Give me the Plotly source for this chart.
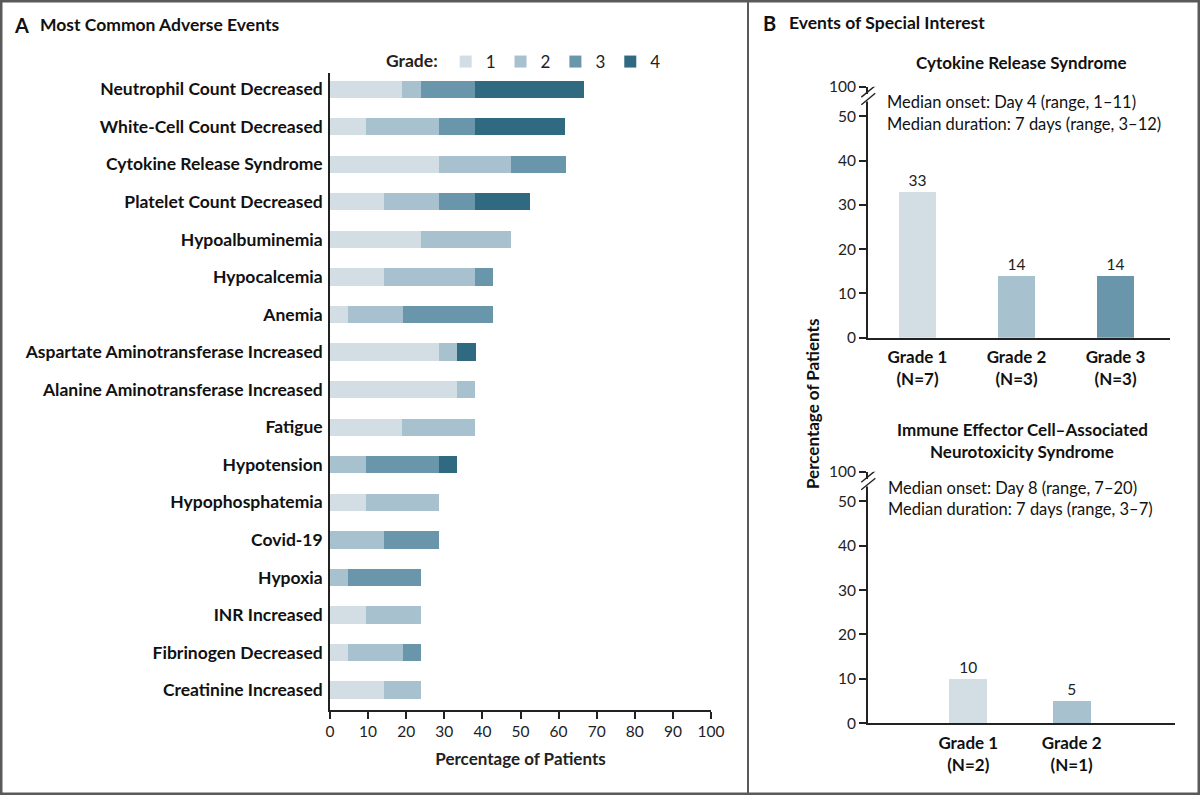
import plotly.graph_objects as go

W, H = 1200, 795
FONT = "Lato"

# ---------------- data ----------------
categories = [
    "Neutrophil Count Decreased", "White-Cell Count Decreased", "Cytokine Release Syndrome",
    "Platelet Count Decreased", "Hypoalbuminemia", "Hypocalcemia", "Anemia",
    "Aspartate Aminotransferase Increased", "Alanine Aminotransferase Increased", "Fatigue",
    "Hypotension", "Hypophosphatemia", "Covid-19", "Hypoxia", "INR Increased",
    "Fibrinogen Decreased", "Creatinine Increased",
]
grade1 = [19.0, 9.5, 28.6, 14.3, 23.8, 14.3, 4.8, 28.6, 33.3, 19.0, 0.0, 9.5, 0.0, 0.0, 9.5, 4.8, 14.3]
grade2 = [4.8, 19.0, 19.0, 14.3, 23.8, 23.8, 14.3, 4.8, 4.8, 19.0, 9.5, 19.0, 14.3, 4.8, 14.3, 14.3, 9.5]
grade3 = [14.3, 9.5, 14.3, 9.5, 0.0, 4.8, 23.8, 0.0, 0.0, 0.0, 19.0, 0.0, 14.3, 19.0, 0.0, 4.8, 0.0]
grade4 = [28.6, 23.8, 0.0, 14.3, 0.0, 0.0, 0.0, 4.8, 0.0, 0.0, 4.8, 0.0, 0.0, 0.0, 0.0, 0.0, 0.0]
grade_names = ["1", "2", "3", "4"]
grade_colors = ["#d3dde4", "#a8c1cf", "#6a96ab", "#2f6a80"]

crs_labels = ["Grade 1<br>(N=7)", "Grade 2<br>(N=3)", "Grade 3<br>(N=3)"]
crs_values = [33, 14, 14]
icans_labels = ["Grade 1<br>(N=2)", "Grade 2<br>(N=1)"]
icans_values = [10, 5]

b_yticks = [0, 10, 20, 30, 40, 50]
b_ytext = ["0", "10", "20", "30", "40", "50"]

# ------------- helpers -------------
def px(x):
    return x / W

def py(y):
    return 1 - y / H

fig = go.Figure()

# Panel A stacked bars
for name, vals, col in zip(grade_names, [grade1, grade2, grade3, grade4], grade_colors):
    fig.add_trace(go.Bar(
        y=categories, x=vals, name=name, orientation="h",
        marker=dict(color=col, line=dict(width=0)),
        xaxis="x", yaxis="y", width=0.46, showlegend=True,
        hoverinfo="x+y",
    ))

# Panel B top: CRS
fig.add_trace(go.Bar(
    x=crs_labels, y=crs_values, marker=dict(color=grade_colors[:3], line=dict(width=0)),
    text=[str(v) for v in crs_values], textposition="outside", cliponaxis=False,
    textfont=dict(family=FONT, size=15.5, color="#222"),
    xaxis="x2", yaxis="y2", width=0.37, showlegend=False,
))
# Panel B bottom: ICANS
fig.add_trace(go.Bar(
    x=icans_labels, y=icans_values, marker=dict(color=grade_colors[:2], line=dict(width=0)),
    text=[str(v) for v in icans_values], textposition="outside", cliponaxis=False,
    textfont=dict(family=FONT, size=15.5, color="#222"),
    xaxis="x3", yaxis="y3", width=0.37, showlegend=False,
))

axis_line = dict(showline=True, linecolor="#222", linewidth=1.6, showgrid=False,
                 zeroline=False, automargin=False)
YTOP = 56.66  # value of the "100" label position above the break

fig.update_layout(
    template="none",
    width=W, height=H,
    margin=dict(l=0, r=0, t=0, b=0, pad=0, autoexpand=False),
    paper_bgcolor="white", plot_bgcolor="white",
    barmode="stack",
    font=dict(family=FONT, size=15, color="#222"),
    bargap=0.5,
    legend=dict(
        orientation="h", x=px(384), y=py(44), xanchor="left", yanchor="top",
        title=dict(text="<b>Grade:</b>", font=dict(family=FONT, size=17.5), side="left"),
        font=dict(family=FONT, size=17), bgcolor="rgba(0,0,0,0)", traceorder="normal",
        itemclick=False, itemdoubleclick=False,
    ),
    xaxis=dict(
        domain=[px(330), px(711)], anchor="y", range=[0, 100], dtick=10,
        ticks="outside", ticklen=7, tickwidth=1.5, tickcolor="#222",
        tickfont=dict(family=FONT, size=15.5), **axis_line,
        title=dict(text="<b>Percentage of Patients</b>", font=dict(family=FONT, size=17), standoff=14),
    ),
    yaxis=dict(
        domain=[py(710), py(73)], anchor="x", type="category",
        range=[16.53, -0.43], ticks="", ticklabelstandoff=2,
        tickfont=dict(family=FONT, size=17.5, color="#111", weight="bold"), **axis_line,
    ),
    xaxis2=dict(
        domain=[px(868), px(1170)], anchor="y2", type="category", range=[-0.5, 2.55],
        ticks="", ticklabelstandoff=3,
        tickfont=dict(family=FONT, size=17, color="#111", weight="bold"), **axis_line,
    ),
    yaxis2=dict(
        domain=[py(337.7), py(86.7)], anchor="x2", range=[0, YTOP],
        tickvals=b_yticks + [YTOP], ticktext=b_ytext + ["100"],
        ticks="outside", ticklen=7, tickwidth=1.5, tickcolor="#222",
        tickfont=dict(family=FONT, size=15.5), **axis_line,
    ),
    xaxis3=dict(
        domain=[px(868), px(1175)], anchor="y3", type="category", range=[-0.97, 2.0],
        ticks="", ticklabelstandoff=3,
        tickfont=dict(family=FONT, size=17, color="#111", weight="bold"), **axis_line,
    ),
    yaxis3=dict(
        domain=[py(723.3), py(471.7)], anchor="x3", range=[0, YTOP],
        tickvals=b_yticks + [YTOP], ticktext=b_ytext + ["100"],
        ticks="outside", ticklen=7, tickwidth=1.5, tickcolor="#222",
        tickfont=dict(family=FONT, size=15.5), **axis_line,
    ),
)

ann = []
def text(x, y, s, size=16, bold=False, xanchor="left", angle=0):
    ann.append(dict(
        x=px(x), y=py(y), xref="paper", yref="paper", text=(f"<b>{s}</b>" if bold else s),
        showarrow=False, xanchor=xanchor, yanchor="middle", textangle=angle,
        font=dict(family=FONT, size=size, color="#111"),
    ))

text(12, 25, "A", size=20, bold=True)
text(38, 25, "Most Common Adverse Events", size=17.5, bold=True)
text(761, 23, "B", size=20, bold=True)
text(787, 23, "Events of Special Interest", size=17.5, bold=True)
text(1021, 63, "Cytokine Release Syndrome", size=17, bold=True, xanchor="center")
text(885, 102, "Median onset: Day 4 (range, 1\u201311)", size=16.5)
text(885, 124, "Median duration: 7 days (range, 3\u201312)", size=16.5)
text(1022, 429, "Immune Effector Cell\u2013Associated", size=17, bold=True, xanchor="center")
text(1022, 451, "Neurotoxicity Syndrome", size=17, bold=True, xanchor="center")
text(886, 488, "Median onset: Day 8 (range, 7\u201320)", size=16.5)
text(886, 509, "Median duration: 7 days (range, 3\u20137)", size=16.5)
text(812, 404, "Percentage of Patients", size=17, bold=True, xanchor="center", angle=-90)
fig.update_layout(annotations=ann)

shapes = [
    # outer frame
    dict(type="rect", xref="paper", yref="paper", x0=0, y0=0, x1=1, y1=1,
         line=dict(color="#5a5a5a", width=5), fillcolor="rgba(0,0,0,0)", layer="above"),
    # divider between panels
    dict(type="line", xref="paper", yref="paper", x0=px(748), x1=px(748), y0=0, y1=1,
         line=dict(color="#5a5a5a", width=2)),
]
# axis break marks
for yr, xr in [("y2", "x2 domain"), ("y3", "x3 domain")]:
    shapes.append(dict(type="rect", xref=xr, yref=yr, x0=-0.012, x1=0.012, y0=53.3, y1=55.0,
                       fillcolor="white", line=dict(width=0), layer="above"))
    for y0 in [52.6, 54.3]:
        shapes.append(dict(type="line", xref=xr, yref=yr, x0=-0.022, x1=0.024, y0=y0, y1=y0 + 2.6,
                           line=dict(color="#222", width=1.4), layer="above"))
fig.update_layout(shapes=shapes)

fig.write_html(
    "out.html",
    config={"displayModeBar": False},
    post_script="document.body.style.margin='0px';document.body.style.overflow='hidden';",
)
